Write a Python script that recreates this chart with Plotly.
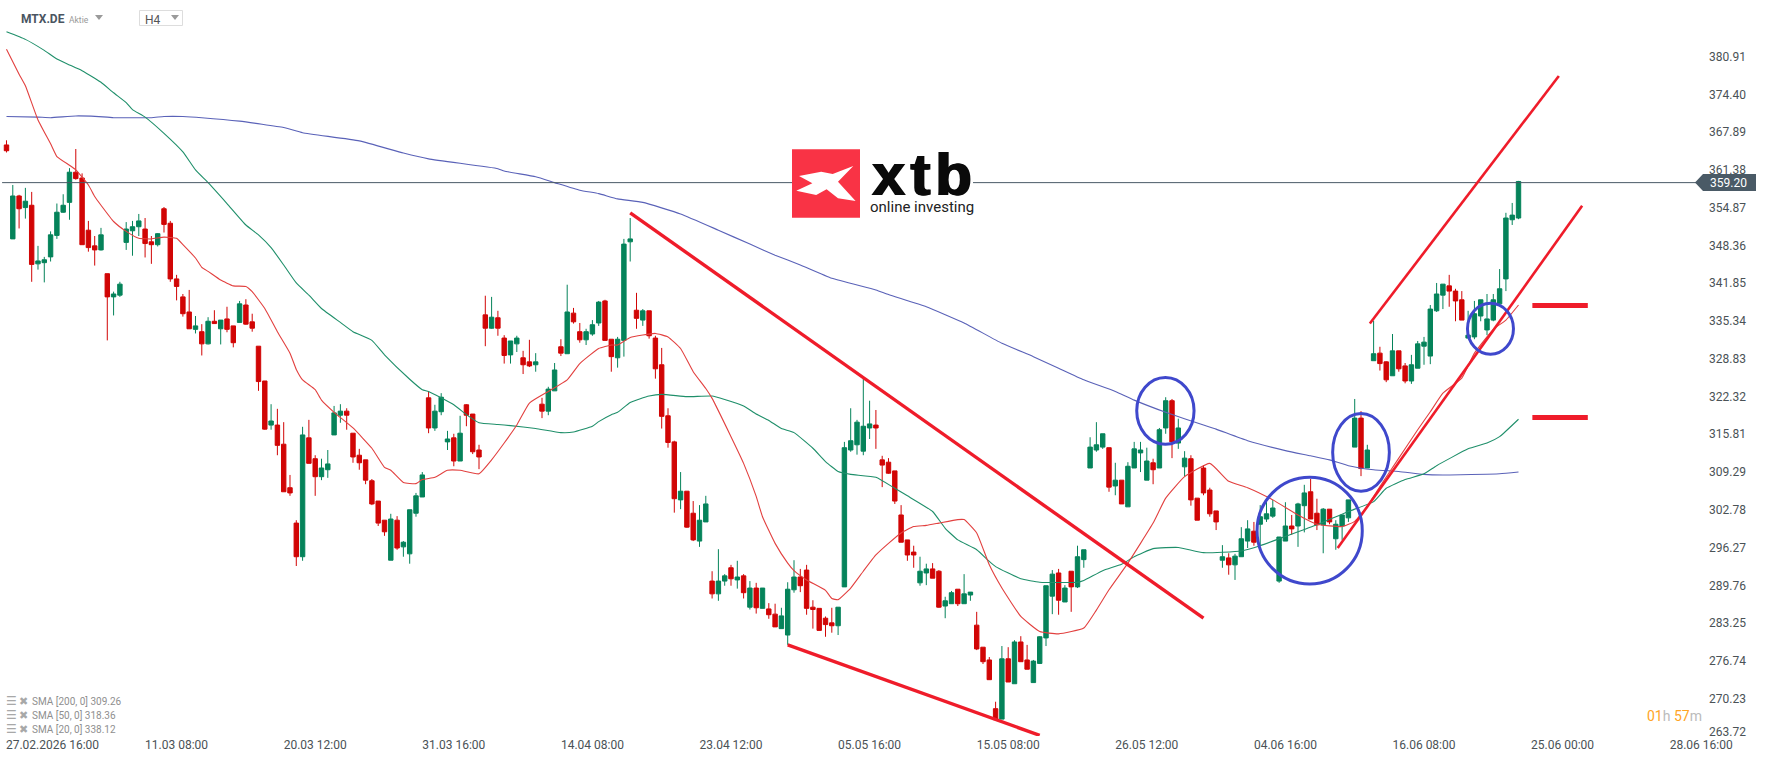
import plotly.graph_objects as go

###############################################################################
# Data
###############################################################################
opens = [
    365.7,349.5,356.9,354.9,355.3,345.2,345.4,346.4,350.1,354.1,
    355.8,361.0,360.0,351.0,348.3,347.6,343.5,339.5,339.8,348.9,
    350.9,351.6,351.2,349.0,348.5,354.7,352.2,342.6,339.5,336.9,
    333.9,333.5,331.4,335.3,334.0,335.7,334.5,335.1,338.1,335.2,
    331.0,325.0,317.4,317.4,314.1,306.6,300.5,294.7,315.2,311.6,
    308.5,309.7,315.7,319.1,319.8,316.0,312.2,311.4,307.8,304.3,
    301.0,294.1,301.0,296.4,295.2,302.2,305.0,322.1,316.9,319.7,
    314.5,315.2,311.2,320.9,319.3,313.1,336.4,334.1,335.9,332.4,
    329.5,331.4,329.0,328.3,327.8,321.0,319.8,323.3,330.9,329.7,
    336.7,333.5,332.1,333.1,335.0,338.8,332.2,329.0,332.0,349.0,
    337.2,335.5,337.1,332.4,327.8,319.0,314.5,304.5,306.0,302.2,
    297.4,300.7,290.5,288.3,290.5,292.8,290.7,291.4,286.0,289.3,
    285.8,285.7,284.8,282.3,281.2,289.0,291.2,292.4,286.0,285.8,
    284.1,283.3,282.8,289.5,313.1,314.0,312.9,316.9,317.4,311.4,
    311.0,309.5,301.9,297.6,295.5,290.2,291.9,292.6,292.2,286.2,
    286.6,289.1,286.6,288.1,282.9,279.1,276.9,268.5,266.7,277.1,
    272.8,280.0,276.9,273.0,276.3,280.7,287.9,291.9,286.9,292.2,
    289.5,294.2,310.0,313.1,313.6,313.5,306.9,307.9,303.3,310.0,
    312.6,307.9,310.9,310.0,316.9,321.6,314.3,310.2,311.6,304.8,
    310.0,306.2,302.6,294.1,294.5,293.3,294.7,297.4,299.1,300.3,
    301.2,301.7,290.5,297.4,300.0,300.0,303.5,305.9,302.2,300.2,
    302.9,297.8,300.0,301.4,313.6,318.6,310.0,328.5,329.8,328.3,
    325.9,330.2,327.6,325.0,327.2,331.0,329.3,337.1,339.8,341.4,
    340.5,339.0,332.4,332.6,336.2,333.8,335.5,338.3,342.6,352.8,
    353.1,
]
highs = [
    366.5,358.8,357.1,358.3,357.6,348.3,346.4,350.8,355.6,357.2,
    361.7,365.0,360.8,352.6,350.0,351.4,343.5,340.4,342.1,352.4,
    352.6,353.8,353.1,350.0,350.5,355.0,352.6,343.3,340.0,340.7,
    336.2,334.8,336.0,337.2,335.5,337.8,334.5,338.8,339.1,336.6,
    331.0,325.0,321.0,320.2,317.9,308.8,301.0,317.1,318.3,312.2,
    311.6,313.1,320.7,321.0,320.3,316.0,313.3,311.4,308.1,304.3,
    301.0,302.1,301.7,297.4,302.8,305.7,309.3,323.1,320.9,322.9,
    316.4,315.9,319.0,321.0,319.3,314.0,339.7,339.5,337.1,332.9,
    331.9,332.8,330.2,332.1,329.8,322.1,324.0,328.1,332.2,341.6,
    337.6,335.0,334.0,335.5,338.8,339.0,332.2,332.6,349.5,353.1,
    340.2,337.4,337.1,332.8,330.7,320.3,314.7,309.3,306.0,304.3,
    303.6,305.2,292.2,296.0,291.7,293.3,294.0,291.7,290.5,290.2,
    289.3,286.7,286.6,285.9,290.3,294.1,292.6,293.3,287.2,285.8,
    284.4,285.9,286.0,314.5,320.3,318.3,325.4,321.6,320.0,312.1,
    311.7,309.5,303.6,297.6,296.6,294.7,293.5,293.6,292.4,287.8,
    288.8,289.1,291.7,288.6,285.2,279.1,277.4,269.7,279.3,279.1,
    280.3,281.0,279.5,276.9,281.0,289.7,292.4,292.6,289.8,292.2,
    296.6,295.9,315.3,317.9,315.9,313.5,310.9,307.9,311.0,314.5,
    314.5,313.5,311.6,316.9,322.2,321.9,318.5,312.9,312.2,304.8,
    310.5,306.6,302.6,296.7,295.3,295.2,299.8,301.0,300.7,303.6,
    304.5,304.5,298.1,304.1,301.9,304.0,307.1,308.1,304.7,303.1,
    302.9,301.0,301.9,304.5,321.9,319.8,314.0,335.4,330.9,328.4,
    333.1,330.2,328.1,329.5,331.9,332.6,338.1,341.9,341.7,343.3,
    340.9,340.5,337.1,338.8,339.0,340.0,340.0,344.3,354.0,355.7,
    359.5,
]
lows = [
    364.4,349.5,351.3,353.0,342.1,344.2,342.0,345.6,349.5,354.0,
    352.8,359.7,348.5,347.3,344.9,347.5,332.0,336.3,339.5,347.6,
    346.6,350.0,346.3,345.2,348.2,350.6,342.1,338.9,336.1,334.0,
    333.2,329.4,331.3,334.9,331.3,333.4,330.8,335.1,334.7,333.5,
    323.3,316.6,316.6,312.2,305.9,305.2,293.1,294.0,310.8,305.2,
    307.9,308.3,315.7,317.8,316.6,310.9,309.7,307.2,303.6,300.0,
    298.3,294.1,295.9,294.7,293.5,301.6,305.0,316.0,316.4,319.1,
    313.1,310.3,311.2,317.2,312.4,309.8,331.0,334.0,332.8,328.0,
    328.0,330.0,326.2,327.4,326.6,318.6,319.1,323.3,329.3,329.7,
    334.9,331.6,331.2,332.8,334.5,332.0,326.6,327.3,329.2,345.6,
    334.0,334.5,332.3,325.4,316.8,313.5,302.3,302.9,299.7,297.4,
    296.4,300.7,287.5,287.1,289.7,289.7,289.2,287.5,285.6,284.9,
    285.8,284.0,282.6,282.3,279.5,288.5,288.6,284.7,282.3,282.0,
    280.9,281.6,281.2,289.5,312.8,312.3,312.2,315.0,313.3,306.7,
    309.0,303.8,297.2,294.0,292.8,289.7,289.8,291.0,285.9,284.1,
    286.6,286.2,286.6,287.1,278.6,276.2,273.5,266.6,266.7,273.1,
    272.8,276.6,275.3,273.0,276.2,279.3,284.8,284.7,286.9,285.2,
    289.3,292.8,310.0,312.8,313.3,305.9,305.3,303.8,303.3,310.0,
    309.3,307.9,307.2,310.0,315.9,311.7,313.3,308.5,303.5,301.0,
    305.3,301.6,299.3,292.8,291.6,290.7,294.7,296.2,296.6,296.6,
    300.7,301.4,290.2,297.4,298.5,296.4,298.9,301.2,299.3,295.3,
    300.3,295.9,297.6,300.7,313.6,308.6,310.0,328.5,326.8,324.8,
    325.9,326.6,324.6,324.5,327.2,327.8,327.9,336.9,337.4,337.8,
    335.3,335.5,332.4,332.2,335.3,332.9,335.3,338.3,340.5,351.9,
    352.9,
]
closes = [
    364.7,356.9,354.7,356.0,345.1,345.7,345.9,350.2,354.1,355.3,
    361.0,359.9,348.5,348.0,347.6,350.2,339.5,340.0,341.7,351.2,
    351.6,352.6,348.7,348.5,350.4,352.0,342.6,341.3,336.6,334.0,
    334.5,331.4,335.3,334.9,335.5,333.9,331.6,338.3,334.8,334.1,
    324.9,316.7,318.1,313.9,305.9,305.7,294.7,315.7,310.8,308.5,
    310.0,310.7,319.5,319.8,319.1,311.9,310.9,307.9,303.8,300.5,
    299.0,301.2,296.2,297.2,302.8,305.2,308.8,316.9,319.8,322.2,
    315.0,311.2,316.0,319.1,312.8,311.9,334.1,336.0,334.1,329.4,
    331.9,332.4,327.8,327.6,328.3,319.8,323.6,326.9,329.8,336.9,
    335.2,332.1,333.5,334.7,338.6,332.0,329.2,332.2,348.6,349.5,
    335.8,337.1,332.8,327.1,318.9,314.4,304.7,306.0,299.8,297.6,
    301.0,303.8,288.3,290.5,291.4,290.9,291.2,288.5,289.3,285.9,
    289.3,284.7,282.6,284.5,289.1,291.2,289.7,285.8,285.6,282.0,
    283.0,282.8,286.0,313.5,314.7,317.9,317.2,317.6,316.9,310.5,
    309.1,304.3,297.2,295.0,295.0,292.2,292.6,291.0,286.0,287.1,
    288.5,286.6,288.3,288.6,278.8,276.6,273.5,266.6,277.1,273.1,
    280.0,276.6,275.3,276.7,280.9,289.7,291.7,287.2,289.3,289.5,
    294.7,295.9,313.6,314.0,315.9,306.7,307.9,303.8,310.3,313.3,
    313.1,311.2,309.7,316.6,321.6,314.5,316.9,311.7,304.5,301.0,
    305.7,302.1,300.7,294.7,293.3,294.8,297.8,299.5,297.2,301.6,
    302.1,303.1,298.1,300.0,299.5,303.8,305.7,301.2,300.2,302.9,
    300.7,300.3,301.9,304.5,318.6,309.9,313.1,329.7,328.0,325.2,
    330.2,327.1,325.0,327.8,331.4,331.7,337.4,340.0,341.7,340.5,
    338.8,335.5,332.9,336.6,339.0,335.7,339.0,340.9,353.1,353.6,
    359.4,
]
# Moving averages, read at the bars where the line bends -----------------------
sma20Bars = [
    0,2,3,5,7,8,10,11,13,14,15,17,19,21,23,25,27,28,30,31,32,34,36,38,39,41,43,
    45,46,47,49,50,52,55,58,60,61,63,65,66,68,70,72,75,77,79,81,83,86,89,91,94,
    96,97,99,103,105,107,109,111,112,115,117,119,120,122,124,125,127,130,131,
    132,134,136,138,140,142,144,146,148,151,152,154,156,158,161,164,167,171,
    173,175,178,182,184,187,191,194,197,201,205,208,212,214,216,218,221,224,
    226,228,231,233,236,238,240,
]
sma20 = [
    382.2,377.9,375.9,370.0,365.9,363.7,362.2,361.4,358.8,356.8,355.3,352.5,
    350.8,349.6,349.5,349.8,349.6,348.5,346.2,344.6,343.9,342.4,341.4,341.3,
    340.4,337.5,333.5,329.8,327.0,325.2,323.5,321.7,319.6,316.9,313.4,310.1,
    309.6,307.5,307.3,308.0,308.4,309.6,309.6,309.0,311.4,314.3,317.4,321.2,
    323.2,325.2,328.0,330.6,331.2,331.2,332.5,333.2,332.6,330.6,326.6,323.7,
    322.0,315.4,310.8,305.1,301.6,297.0,293.6,292.3,290.7,288.9,287.5,287.3,
    289.3,292.2,295.0,297.0,298.8,299.9,300.1,300.5,301.1,301.1,298.8,293.3,
    289.3,284.4,281.8,281.4,282.4,285.5,289.0,293.6,300.5,304.8,308.5,310.8,
    307.7,306.6,304.5,301.9,300.3,299.9,300.8,303.4,306.8,311.7,316.6,319.7,
    322.9,325.5,329.8,333.9,335.5,338.1,
]
sma50Bars = [
    0,3,6,8,10,12,14,15,17,19,20,22,25,28,30,32,35,38,40,42,44,46,48,50,53,55,
    58,60,64,66,67,71,73,75,78,80,84,88,90,93,94,96,97,99,102,104,108,112,114,
    117,119,121,123,125,128,130,132,134,138,141,143,147,149,151,154,156,157,
    161,164,170,171,174,177,179,182,186,190,196,199,203,208,213,217,219,222,
    225,227,232,235,237,240,
]
sma50 = [
    385.2,383.9,382.0,380.5,379.5,378.5,377.2,376.5,374.7,373.0,371.8,370.5,
    367.7,364.5,361.4,359.2,355.6,351.9,350.2,348.0,345.0,341.9,339.8,337.5,
    335.1,333.5,332.0,329.5,325.3,323.5,323.2,320.9,319.2,317.8,317.5,317.3,
    316.8,316.1,316.2,317.2,318.0,319.2,319.6,321.3,322.4,322.7,322.3,322.4,
    321.8,320.7,319.3,318.2,316.8,316.1,313.4,311.1,309.4,308.9,308.4,306.5,
    305.2,302.5,299.6,297.6,295.9,293.9,293.0,290.9,290.3,290.3,290.6,292.3,
    293.4,294.7,296.1,296.3,295.4,295.7,296.6,298.2,300.2,302.5,304.2,306.5,
    308.0,309.0,310.4,313.3,314.3,315.4,318.4,
]
sma200Bars = [
    0,5,7,11,16,17,23,25,28,31,37,44,47,56,63,67,78,79,84,87,91,94,97,101,107,
    113,118,122,126,131,138,140,146,152,158,163,167,171,176,179,184,190,192,197,
    203,207,210,213,217,221,225,228,237,240,
]
sma200 = [
    370.6,370.5,370.4,370.7,370.5,370.4,370.4,370.6,370.6,370.4,369.8,368.7,
    367.8,366.4,364.3,363.3,361.6,361.2,360.2,359.2,357.9,357.3,356.4,355.8,
    353.8,351.0,348.6,346.7,345.0,342.7,340.7,339.9,337.8,335.0,331.5,329.2,
    327.2,325.2,323.2,321.7,319.6,317.4,316.7,314.7,313.0,312.1,311.4,310.4,
    309.7,309.4,308.9,308.8,309.0,309.3,
]
lastPrice = 359.20
# Analyst drawings ------------------------------------------------------------
trendLines = [
    ([99, 190], [354.0, 284.1]),
    ([124, 164], [279.5, 263.9]),
    ([216.4, 246.4], [334.9, 377.6]),
    ([211.3, 250.1], [296.2, 355.2]),
]
levelBars = [242.2, 251]
levels = [338.0, 318.7]
circleBars = [(179.4, 188.5), (210.5, 219.5), (198.5, 215.2), (231.9, 239.2)]
circlePrices = [(314.1, 325.6), (306.0, 319.4), (290.0, 308.4), (329.6, 338.4)]
# Axes ------------------------------------------------------------------------
priceTicks = [
    380.91, 374.40, 367.89, 361.38, 354.87, 348.36, 341.85, 335.34, 328.83,
    322.32, 315.81, 309.29, 302.78, 296.27, 289.76, 283.25, 276.74, 270.23,
    264.45,
]
priceLabels = [
    '380.91', '374.40', '367.89', '361.38', '354.87', '348.36', '341.85',
    '335.34', '328.83', '322.32', '315.81', '309.29', '302.78', '296.27',
    '289.76', '283.25', '276.74', '270.23', '263.72',
]
dateTicks = [7.3, 27, 49, 71, 93, 115, 137, 159, 181, 203, 225, 247, 269]
dateLabels = [
    '27.02.2026 16:00', '11.03 08:00', '20.03 12:00', '31.03 16:00',
    '14.04 08:00', '23.04 12:00', '05.05 16:00', '15.05 08:00', '26.05 12:00',
    '04.06 16:00', '16.06 08:00', '25.06 00:00', '28.06 16:00',
]
smaLegend = ['SMA [200, 0] 309.26', 'SMA [50, 0] 318.36', 'SMA [20, 0] 338.12']
###############################################################################
# Plot
###############################################################################
(WIDTH, HEIGHT, PLOT_W, PLOT_H) = (1768, 761, 1706, 736)
(GREEN, RED, LINE_RED, BLUE, SLATE) = (
    '#05835a', '#d10505', '#ef1c2a', '#3f48cc', '#4a5a66'
)
FONT = 'Roboto'


def xp(px):
    return px/PLOT_W


def yp(px):
    return (PLOT_H-px)/PLOT_H


fig = go.Figure()
fig.add_trace(go.Candlestick(
    x=list(range(len(opens))), open=opens, high=highs, low=lows, close=closes,
    whiskerwidth=0, hoverinfo='skip',
    increasing=dict(fillcolor=GREEN, line=dict(color=GREEN, width=1)),
    decreasing=dict(fillcolor=RED, line=dict(color=RED, width=1))
))
for (bars, vals, color) in (
    (sma200Bars, sma200, '#5a62b8'),
    (sma50Bars, sma50, '#1f8f6a'),
    (sma20Bars, sma20, '#e2403f'),
):
    fig.add_trace(go.Scatter(
        x=bars, y=vals, mode='lines', hoverinfo='skip',
        line=dict(color=color, width=1.1, shape='spline', smoothing=0.4)
    ))
fig.add_trace(go.Scatter(
    x=[-0.7, 268.8], y=[lastPrice, lastPrice], mode='lines',
    hoverinfo='skip', line=dict(color=SLATE, width=1)
))
for (bars, vals) in trendLines[:2]:
    fig.add_trace(go.Scatter(
        x=bars, y=vals, mode='lines', hoverinfo='skip',
        line=dict(color=LINE_RED, width=3.4)
    ))
for (bars, vals) in trendLines[2:]:
    fig.add_trace(go.Scatter(
        x=bars, y=vals, mode='lines', hoverinfo='skip',
        line=dict(color=LINE_RED, width=2.6)
    ))
for level in levels:
    fig.add_trace(go.Scatter(
        x=levelBars, y=[level, level], mode='lines', hoverinfo='skip',
        line=dict(color=LINE_RED, width=5)
    ))
# Circles and logo ------------------------------------------------------------
shapes = [
    dict(
        type='circle', xref='x', yref='y',
        x0=b[0], x1=b[1], y0=p[0], y1=p[1],
        line=dict(color=BLUE, width=3)
    )
    for (b, p) in zip(circleBars, circlePrices)
]
shapes.append(dict(
    type='rect', xref='paper', yref='paper',
    x0=xp(860), x1=xp(973), y0=yp(218), y1=yp(148),
    fillcolor='white', line=dict(width=0)
))
shapes.append(dict(
    type='rect', xref='paper', yref='paper',
    x0=xp(792), x1=xp(860), y0=yp(217.7), y1=yp(149.3),
    fillcolor='#f93345', line=dict(width=0)
))
star = [
    (853.3, 166), (838, 181.7), (855.6, 201), (838, 198.3), (826.6, 189.3),
    (816.2, 195), (796.3, 190.7), (812.4, 183.3), (799, 176), (821.2, 171.7),
    (832.7, 174)
]
shapes.append(dict(
    type='path', xref='paper', yref='paper',
    path='M'+' L'.join(f'{xp(x):.5f},{yp(y):.5f}' for (x, y) in star)+' Z',
    fillcolor='white', line=dict(width=0)
))
# Price tag
tag = [(1695, 182.5), (1703, 174), (1756, 174), (1756, 191), (1703, 191)]
shapes.append(dict(
    type='path', xref='paper', yref='paper',
    path='M'+' L'.join(f'{xp(x):.5f},{yp(y):.5f}' for (x, y) in tag)+' Z',
    fillcolor=SLATE, line=dict(width=0)
))
# Small triangles of the header
for (cx, cy) in ((99, 17.5), (175, 17.5)):
    shapes.append(dict(
        type='path', xref='paper', yref='paper',
        path=f'M{xp(cx-4):.5f},{yp(cy-2.5):.5f} L{xp(cx+4):.5f},{yp(cy-2.5):.5f} '
             f'L{xp(cx):.5f},{yp(cy+2.5):.5f} Z',
        fillcolor='#9a9a9a', line=dict(width=0)
    ))
shapes.append(dict(
    type='rect', xref='paper', yref='paper',
    x0=xp(139.5), x1=xp(182.5), y0=yp(25.5), y1=yp(10.5),
    fillcolor='rgba(0,0,0,0)', line=dict(color='#dddddd', width=1)
))


def note(text, x, y, size=12, color='#444', font=FONT, anchor='left', shadow=None, **kw):
    family = dict(family=font, size=size, color=color)
    if shadow:
        family['shadow'] = shadow
    return dict(
        text=text, x=xp(x), y=yp(y), xref='paper', yref='paper',
        showarrow=False, xanchor=anchor, yanchor='middle', font=family, **kw
    )


annots = [
    note('<b>MTX.DE</b>', 19, 19, size=12, color='#4a5561'),
    note('Aktie', 67, 19.5, size=8.5, color='#999999'),
    note('H4', 143, 19.5, size=12, color='#555555'),
    note('<b>x\u200at\u200ab</b>', 922, 174, size=60, color='#0a0a0a',
         font='Liberation Sans', anchor='center',
         shadow='1px 0 0 #0a0a0a, -1px 0 0 #0a0a0a'),
    note('online investing', 922, 207, size=15, color='#222222',
         font='Roboto', anchor='center'),
    note('359.20', 1708, 183, size=12, color='white'),
    note(
        '<span style="color:#ffa424">01</span>h '
        '<span style="color:#ffa424">57</span>m',
        1645, 716, size=14, color='#bbbbbb'
    ),
]
for (ix, label) in enumerate(smaLegend):
    y = 701.5+14*ix
    annots.append(note('☰', 4, y-0.5, size=12, color='#a8a8a8',
                       font='DejaVu Sans'))
    annots.append(note('✖', 17, y-0.5, size=11, color='#a8a8a8',
                       font='DejaVu Sans'))
    annots.append(note(label, 29.5, y, size=10, color='#8f8f8f'))
fig.update_layout(
    width=WIDTH, height=HEIGHT,
    margin=dict(l=0, r=WIDTH-PLOT_W, t=0, b=HEIGHT-PLOT_H, pad=0),
    paper_bgcolor='white', plot_bgcolor='white',
    showlegend=False, boxgap=0.3, boxgroupgap=0,
    shapes=shapes, annotations=annots,
    font=dict(family=FONT, size=12, color='#4a5256'),
    xaxis=dict(
        range=[-1.03, 269.76], rangeslider=dict(visible=False),
        tickmode='array', tickvals=dateTicks, ticktext=dateLabels,
        showgrid=False, zeroline=False, showline=False, ticks='',
        tickangle=0, ticklabelstandoff=0
    ),
    yaxis=dict(
        side='right', range=[263.79, 390.69],
        tickmode='array', tickvals=priceTicks, ticktext=priceLabels,
        showgrid=False, zeroline=False, showline=False, ticks='',
        ticklabelstandoff=2
    ),
)
fig.write_html(
    'out.html', config=dict(displayModeBar=False),
    post_script="document.body.style.margin='0';document.body.style.overflow='hidden';"
)
